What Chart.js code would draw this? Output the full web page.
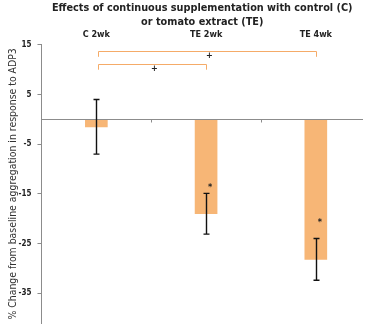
<!DOCTYPE html>
<html>
<head>
<meta charset="utf-8">
<script src="https://cdn.jsdelivr.net/npm/chart.js@4/dist/chart.umd.min.js"></script>
<style>
    html, body { margin: 0; padding: 0; background: #fff; }
    #wrap { width: 368px; height: 334px; }
</style>
</head>
<body>
<div id="wrap"><canvas id="chart"></canvas></div>
<script>
const categories = ["C 2wk", "TE 2wk", "TE 4wk"];
const meanChange = [-1.5, -19, -28.2];
const errorSize = [5.5, 4.1, 4.2];
const starLevels = [null, -13.4, -20.4];
const yTicks = [-35, -25, -15, -5, 5, 15];
const bracketFrom = [0, 0];
const bracketTo = [2, 1];
const bracketLevels = [13.8, 11.2];
const bracketLabels = ["+", "+"];

const FONT = "'DejaVu Sans Condensed', 'DejaVu Sans', sans-serif";
const BAR = "#f7b676";
const LINK = "#f5ab68";
const AXIS = "#8c8c8c";

const annotate = {
    id: "annotate",
    afterDatasetsDraw(chart) {
        const { ctx, scales: { x, y }, chartArea } = chart;
        ctx.save();

        // zero line with category boundary ticks
        const y0 = Math.round(y.getPixelForValue(0)) + 0.5;
        ctx.strokeStyle = AXIS;
        ctx.lineWidth = 1;
        ctx.beginPath();
        ctx.moveTo(chartArea.left, y0);
        ctx.lineTo(chartArea.right, y0);
        for (let i = 0; i < categories.length - 1; i++) {
            const bx = Math.round(x.getPixelForValue(i + 0.5)) + 0.5;
            ctx.moveTo(bx, y0);
            ctx.lineTo(bx, y0 + 3);
        }
        ctx.stroke();

        // error bars
        ctx.strokeStyle = "#111";
        ctx.lineWidth = 1.4;
        meanChange.forEach((m, i) => {
            const cx = Math.round(x.getPixelForValue(i)) + 0.5;
            const top = y.getPixelForValue(m + errorSize[i]);
            const bot = y.getPixelForValue(m - errorSize[i]);
            ctx.beginPath();
            ctx.moveTo(cx, top);
            ctx.lineTo(cx, bot);
            ctx.moveTo(cx - 3, top);
            ctx.lineTo(cx + 3, top);
            ctx.moveTo(cx - 3, bot);
            ctx.lineTo(cx + 3, bot);
            ctx.stroke();
        });

        // significance stars
        ctx.fillStyle = "#222";
        ctx.font = "bold 9px " + FONT;
        ctx.textAlign = "center";
        ctx.textBaseline = "middle";
        starLevels.forEach((s, i) => {
            if (s === null) return;
            ctx.fillText("*", x.getPixelForValue(i) + 4, y.getPixelForValue(s) + 2);
        });

        // brackets
        ctx.lineWidth = 1;
        bracketLevels.forEach((lv, i) => {
            const x1 = Math.round(x.getPixelForValue(bracketFrom[i])) + 2.5;
            const x2 = Math.round(x.getPixelForValue(bracketTo[i])) + 0.5;
            const by = Math.round(y.getPixelForValue(lv)) + 0.5;
            const drop = y.getPixelForValue(lv - 1.2);
            ctx.strokeStyle = LINK;
            ctx.beginPath();
            ctx.moveTo(x1, drop);
            ctx.lineTo(x1, by);
            ctx.lineTo(x2, by);
            ctx.lineTo(x2, drop);
            ctx.stroke();
            ctx.fillStyle = "#222";
            ctx.font = "bold 9px " + FONT;
            ctx.textBaseline = "middle";
            ctx.fillText(bracketLabels[i], (x1 + x2) / 2 + 2, by + 4);
        });

        ctx.restore();
    }
};

new Chart(document.getElementById("chart"), {
    type: "bar",
    data: {
        datasets: [{
            data: meanChange.map((v, i) => ({ x: i, y: v })),
            backgroundColor: BAR,
            borderWidth: 0,
            barThickness: 22,
        }],
    },
    options: {
        responsive: true,
        maintainAspectRatio: false,
        animation: false,
        layout: { padding: { left: 0, right: 5, top: 1, bottom: 11 } },
        plugins: {
            legend: { display: false },
            tooltip: { enabled: false },
        },
        scales: {
            x: {
                type: "linear",
                position: "top",
                offset: false,
                min: -0.5,
                max: 2.43,
                afterBuildTicks: (axis) => {
                    axis.ticks = categories.map((_, i) => ({ value: i }));
                },
                ticks: {
                    callback: (v) => categories[v],
                    color: "#222",
                    font: { family: FONT, size: 9, weight: "bold" },
                    padding: 5,
                    maxRotation: 0,
                },
                grid: { display: false, drawTicks: false },
                border: { display: false },
                title: {
                    display: true,
                    text: ["Effects of continuous supplementation with control (C)", "or tomato extract (TE)"],
                    color: "#222",
                    font: { family: FONT, size: 10.8, weight: "bold", lineHeight: 1.3 },
                    padding: { top: 0, bottom: -5 },
                },
            },
            y: {
                min: -41,
                max: 15,
                afterBuildTicks: (axis) => {
                    axis.ticks = yTicks.map((v) => ({ value: v }));
                },
                ticks: {
                    color: "#222",
                    font: { family: FONT, size: 8, weight: "bold" },
                    padding: 6,
                },
                grid: {
                    drawOnChartArea: false,
                    tickLength: 4,
                    tickColor: AXIS,
                },
                border: { color: AXIS, width: 1 },
                title: {
                    display: true,
                    text: "% Change from baseline aggregation in response to ADP3",
                    color: "#333",
                    font: { family: FONT, size: 10.4 },
                    padding: { top: 7, bottom: -7 },
                },
            },
        },
    },
    plugins: [annotate],
});
</script>
</body>
</html>
